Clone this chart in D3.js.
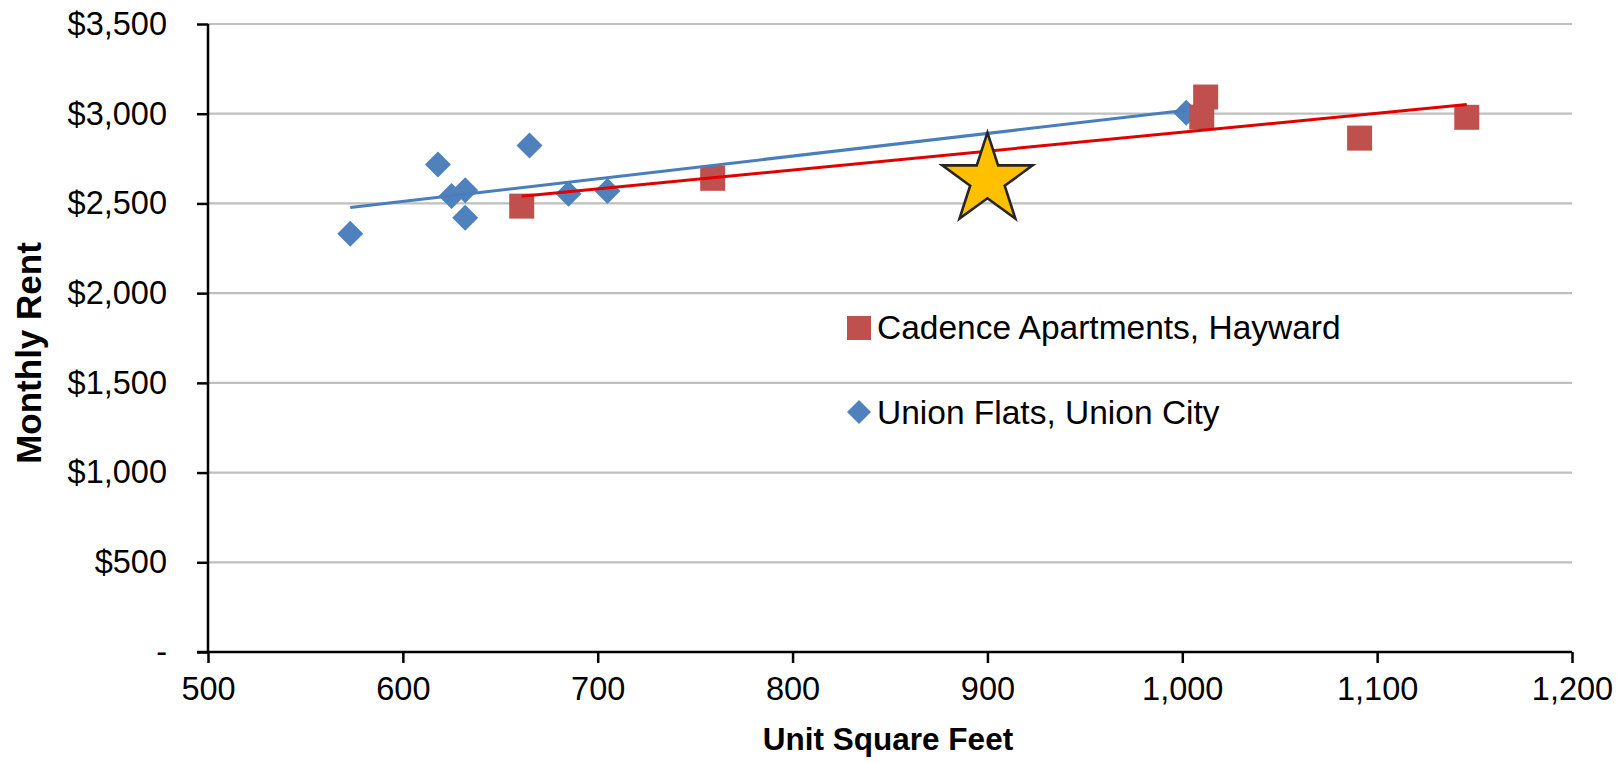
<!DOCTYPE html>
<html>
<head>
<meta charset="utf-8">
<script src="https://cdn.jsdelivr.net/npm/d3@7"></script>
<style>
  html, body { margin: 0; padding: 0; background: #fff; }
  svg { display: block; font-family: "Liberation Sans", Arial, sans-serif; }
</style>
</head>
<body>
<svg id="chart" width="1617" height="763"></svg>
<script>
// ---- Data ----
const cadenceSqft = [661, 759, 1010, 1012, 1091, 1146];
const cadenceRent = [2485, 2640, 2981, 3093, 2864, 2980];
const unionSqft = [573, 618, 625, 632, 632, 665, 685, 705, 1002];
const unionRent = [2331, 2717, 2541, 2573, 2420, 2823, 2554, 2569, 3006];
const subjectSqft = [900];
const subjectRent = [2630];
const seriesNames = ["Cadence Apartments, Hayward", "Union Flats, Union City"];
const xTicks = [500, 600, 700, 800, 900, 1000, 1100, 1200];
const yTicks = [0, 500, 1000, 1500, 2000, 2500, 3000, 3500];
const xTitle = "Unit Square Feet";
const yTitle = "Monthly Rent";

// ---- Layout ----
const svg = d3.select("#chart");
const L = 208, R = 1572, T = 24, B = 652;
const x = d3.scaleLinear().domain([500, 1200]).range([L, R]);
const y = d3.scaleLinear().domain([0, 3500]).range([B, T]);

const blue = "#4F81BD", red = "#C0504D";
const blueTrend = "#4A7EBB", redTrend = "#E00000";

// gridlines
svg.append("g").selectAll("line").data(yTicks.filter(d => d > 0)).join("line")
  .attr("x1", L).attr("x2", R).attr("y1", d => y(d)).attr("y2", d => y(d))
  .attr("stroke", "#BFBFBF").attr("stroke-width", 2.2);

// axes
const yFmt = d => d === 0 ? "-" : "$" + d3.format(",")(d);
const yAxis = svg.append("g").attr("transform", `translate(${L},0)`)
  .call(d3.axisLeft(y).tickValues(yTicks).tickFormat(yFmt).tickSize(11).tickPadding(30));
const xAxis = svg.append("g").attr("transform", `translate(0,${B})`)
  .call(d3.axisBottom(x).tickValues(xTicks).tickFormat(d3.format(",")).tickSize(11).tickPadding(14));
[yAxis, xAxis].forEach(g => {
  g.selectAll("path.domain").attr("stroke", "#000").attr("stroke-width", 2.5);
  g.selectAll(".tick line").attr("stroke", "#000").attr("stroke-width", 2.5);
  g.selectAll("text").attr("font-size", 32.5).attr("fill", "#000")
    .attr("font-family", "'Liberation Sans', Arial, sans-serif");
});
yAxis.select("path.domain").attr("d", `M-11,${B}H0V${T}`);
xAxis.select("path.domain").attr("d", `M${L},0H${R}`);

// trendlines (least squares from the data)
function fit(xs, ys) {
  const mx = d3.mean(xs), my = d3.mean(ys);
  let sxy = 0, sxx = 0;
  xs.forEach((v, i) => { sxy += (v - mx) * (ys[i] - my); sxx += (v - mx) ** 2; });
  const b = sxy / sxx, a = my - b * mx;
  const x0 = d3.min(xs), x1 = d3.max(xs);
  return [[x0, a + b * x0], [x1, a + b * x1]];
}
const line = d3.line().x(d => x(d[0])).y(d => y(d[1]));

// markers
const unionPts = unionSqft.map((v, i) => [v, unionRent[i]]);
const cadencePts = cadenceSqft.map((v, i) => [v, cadenceRent[i]]);
const diamondPath = s => `M0,${-s}L${s},0L0,${s}L${-s},0Z`;

svg.append("g").selectAll("path").data(unionPts).join("path")
  .attr("d", diamondPath(13))
  .attr("transform", d => `translate(${x(d[0])},${y(d[1])})`)
  .attr("fill", blue);

svg.append("g").selectAll("rect").data(cadencePts).join("rect")
  .attr("x", d => x(d[0]) - 12.5).attr("y", d => y(d[1]) - 12.5)
  .attr("width", 25).attr("height", 25).attr("fill", red);

svg.append("path").datum(fit(unionSqft, unionRent)).attr("d", line)
  .attr("stroke", blueTrend).attr("stroke-width", 3).attr("fill", "none");
svg.append("path").datum(fit(cadenceSqft, cadenceRent)).attr("d", line)
  .attr("stroke", redTrend).attr("stroke-width", 3).attr("fill", "none");

// subject star
svg.append("g").selectAll("path").data(subjectSqft.map((v, i) => [v, subjectRent[i]])).join("path")
  .attr("d", d3.symbol(d3.symbolStar, 47.5 * 47.5 / 0.8908130915292852))
  .attr("transform", d => `translate(${x(d[0])},${y(d[1])})`)
  .attr("fill", "#FFC000").attr("stroke", "#262626").attr("stroke-width", 2.6);

// legend
const lg = svg.append("g");
lg.append("rect").attr("x", 847).attr("y", 316).attr("width", 24).attr("height", 24).attr("fill", red);
lg.append("text").attr("x", 877).attr("y", 339).attr("font-size", 33.5).text(seriesNames[0]);
lg.append("path").attr("d", diamondPath(12)).attr("transform", "translate(859,412)").attr("fill", blue);
lg.append("text").attr("x", 877).attr("y", 424).attr("font-size", 33.5).text(seriesNames[1]);

// axis titles
svg.append("text").attr("x", (L + R) / 2 - 2).attr("y", 750).attr("text-anchor", "middle")
  .attr("font-size", 31.5).attr("font-weight", "bold").text(xTitle);
svg.append("text").attr("transform", `translate(41,${(T + B) / 2 + 15}) rotate(-90)`)
  .attr("text-anchor", "middle").attr("font-size", 35).attr("font-weight", "bold").text(yTitle);
</script>
</body>
</html>
